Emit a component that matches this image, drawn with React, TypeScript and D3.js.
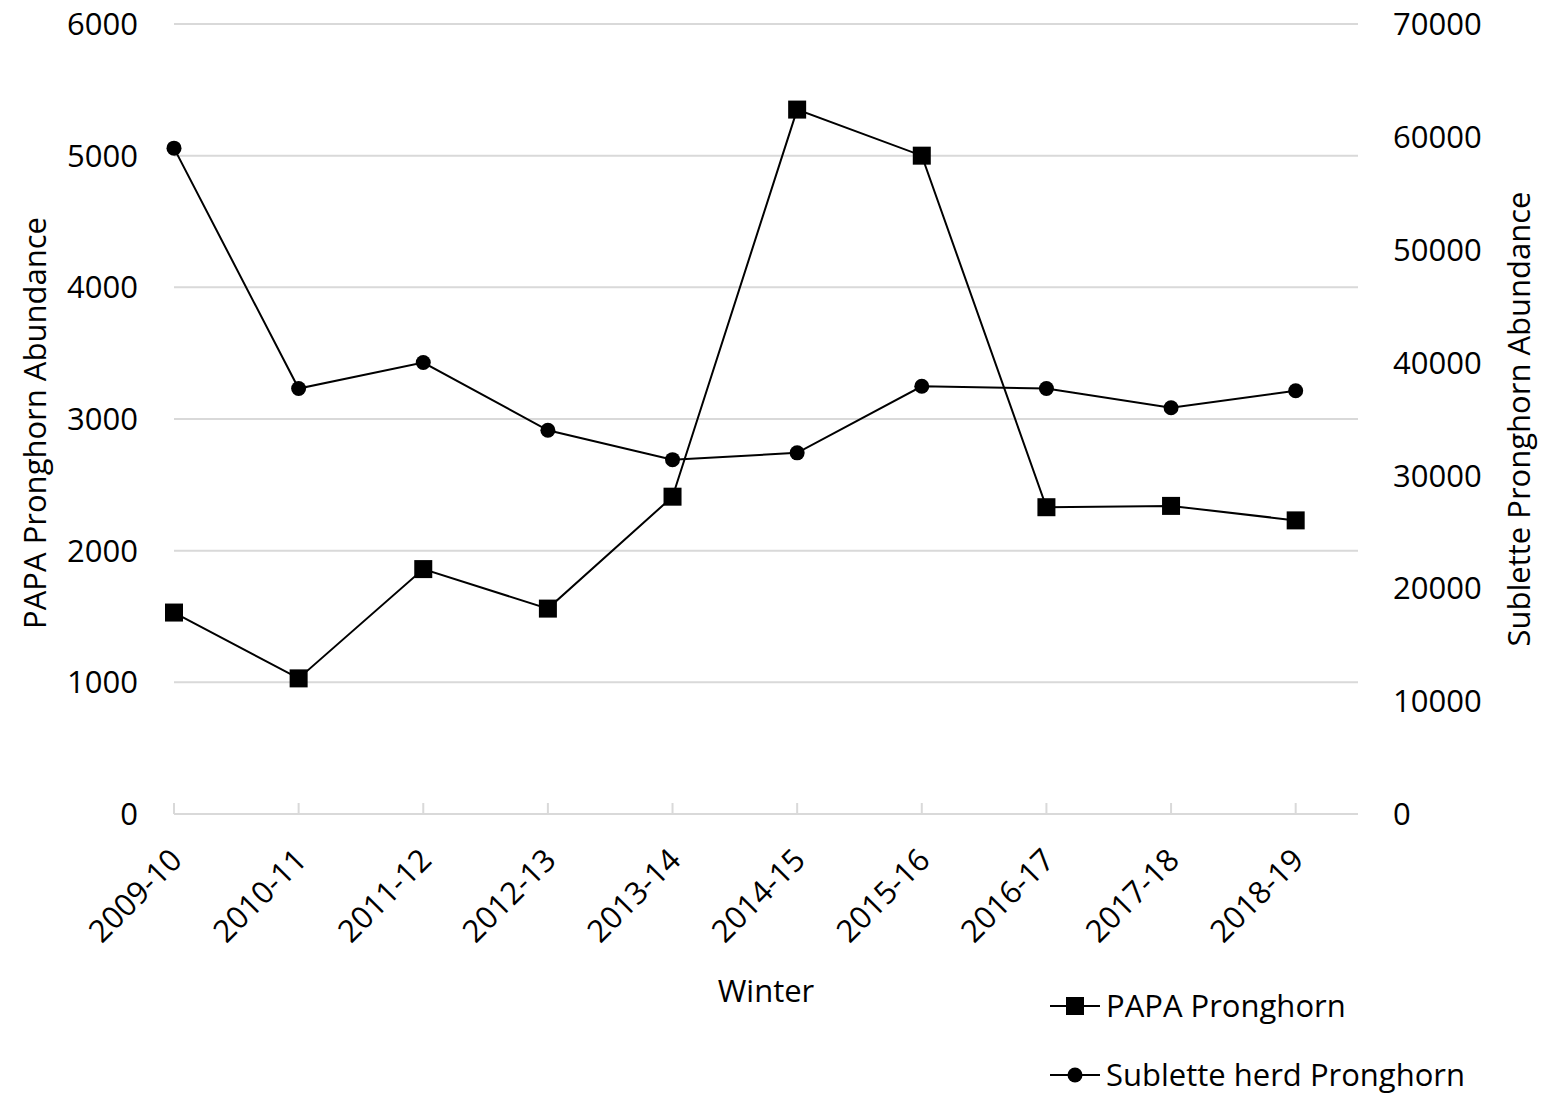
import React from "react";
import * as d3 from "d3";

const winters = ["2009-10", "2010-11", "2011-12", "2012-13", "2013-14", "2014-15", "2015-16", "2016-17", "2017-18", "2018-19"];
const papa = [1530, 1030, 1860, 1560, 2410, 5350, 5000, 2330, 2340, 2230];
const sublette = [59000, 37700, 40000, 34000, 31400, 32000, 37900, 37700, 36000, 37500];
const leftTicks = [0, 1000, 2000, 3000, 4000, 5000, 6000];
const rightTicks = [0, 10000, 20000, 30000, 40000, 50000, 60000, 70000];

const W = 1562;
const H = 1096;
const left = 174;
const right = 1358;
const top = 24;
const bottom = 814;
const font = "'Open Sans', 'Noto Sans', sans-serif";

export default function App() {
  // points sit on tick marks, axis runs half a step past the last one
  const step = (right - left) / (winters.length - 0.5);
  const x = d3.scalePoint<string>()
    .domain(winters)
    .range([left, left + step * (winters.length - 1)]);
  const yL = d3.scaleLinear().domain([0, 6000]).range([bottom, top]);
  const yR = d3.scaleLinear().domain([0, 70000]).range([bottom, top]);

  const papaLine = d3.line<number>()
    .x((_, i) => x(winters[i])!)
    .y(d => yL(d));
  const subLine = d3.line<number>()
    .x((_, i) => x(winters[i])!)
    .y(d => yR(d));

  const tickFont = 31;

  return (
    <svg width={W} height={H} style={{ position: "absolute", left: 0, top: 0 }} fontFamily={font}>
      <rect width={W} height={H} fill="#fff" />
      {leftTicks.filter(t => t > 0).map(t => (
        <line key={t} x1={left} x2={right} y1={yL(t)} y2={yL(t)} stroke="#d9d9d9" strokeWidth={2} />
      ))}
      <line x1={left} x2={right} y1={bottom} y2={bottom} stroke="#d9d9d9" strokeWidth={2} />
      {winters.map(w => (
        <line key={w} x1={x(w)} x2={x(w)} y1={bottom} y2={bottom - 11} stroke="#d9d9d9" strokeWidth={2} />
      ))}

      {leftTicks.map(t => (
        <text key={t} x={138} y={yL(t)} dy="0.36em" textAnchor="end" fontSize={tickFont} fill="#000">{t}</text>
      ))}
      {rightTicks.map(t => (
        <text key={t} x={1393} y={yR(t)} dy="0.36em" textAnchor="start" fontSize={tickFont} fill="#000">{t}</text>
      ))}
      {winters.map(w => (
        <text key={w} transform={`translate(${x(w)! + 2},${bottom + 40}) rotate(-45)`} textAnchor="end"
          dy="0.36em" fontSize={tickFont} fill="#000">{w}</text>
      ))}

      <text transform={`translate(46,${(top + bottom) / 2 + 4}) rotate(-90)`} textAnchor="middle" fontSize={tickFont} fill="#000">PAPA Pronghorn Abundance</text>
      <text transform={`translate(1530,${(top + bottom) / 2}) rotate(-90)`} textAnchor="middle" fontSize={tickFont} fill="#000">Sublette Pronghorn Abundance</text>
      <text x={(left + right) / 2} y={1002} textAnchor="middle" fontSize={tickFont} fill="#000">Winter</text>

      <path d={papaLine(papa)!} fill="none" stroke="#000" strokeWidth={2} />
      <path d={subLine(sublette)!} fill="none" stroke="#000" strokeWidth={2} />
      {papa.map((v, i) => (
        <rect key={i} x={x(winters[i])! - 9} y={yL(v) - 9} width={18} height={18} fill="#000" />
      ))}
      {sublette.map((v, i) => (
        <circle key={i} cx={x(winters[i])!} cy={yR(v)} r={7.5} fill="#000" />
      ))}

      <g transform="translate(1050,1006)">
        <line x1={0} x2={50} y1={0} y2={0} stroke="#000" strokeWidth={2} />
        <rect x={16} y={-9} width={18} height={18} fill="#000" />
        <text x={56} y={0} dy="0.36em" fontSize={tickFont} fill="#000">PAPA Pronghorn</text>
      </g>
      <g transform="translate(1050,1075)">
        <line x1={0} x2={50} y1={0} y2={0} stroke="#000" strokeWidth={2} />
        <circle cx={25} cy={0} r={7.5} fill="#000" />
        <text x={56} y={0} dy="0.36em" fontSize={tickFont} fill="#000">Sublette herd Pronghorn</text>
      </g>
    </svg>
  );
}
